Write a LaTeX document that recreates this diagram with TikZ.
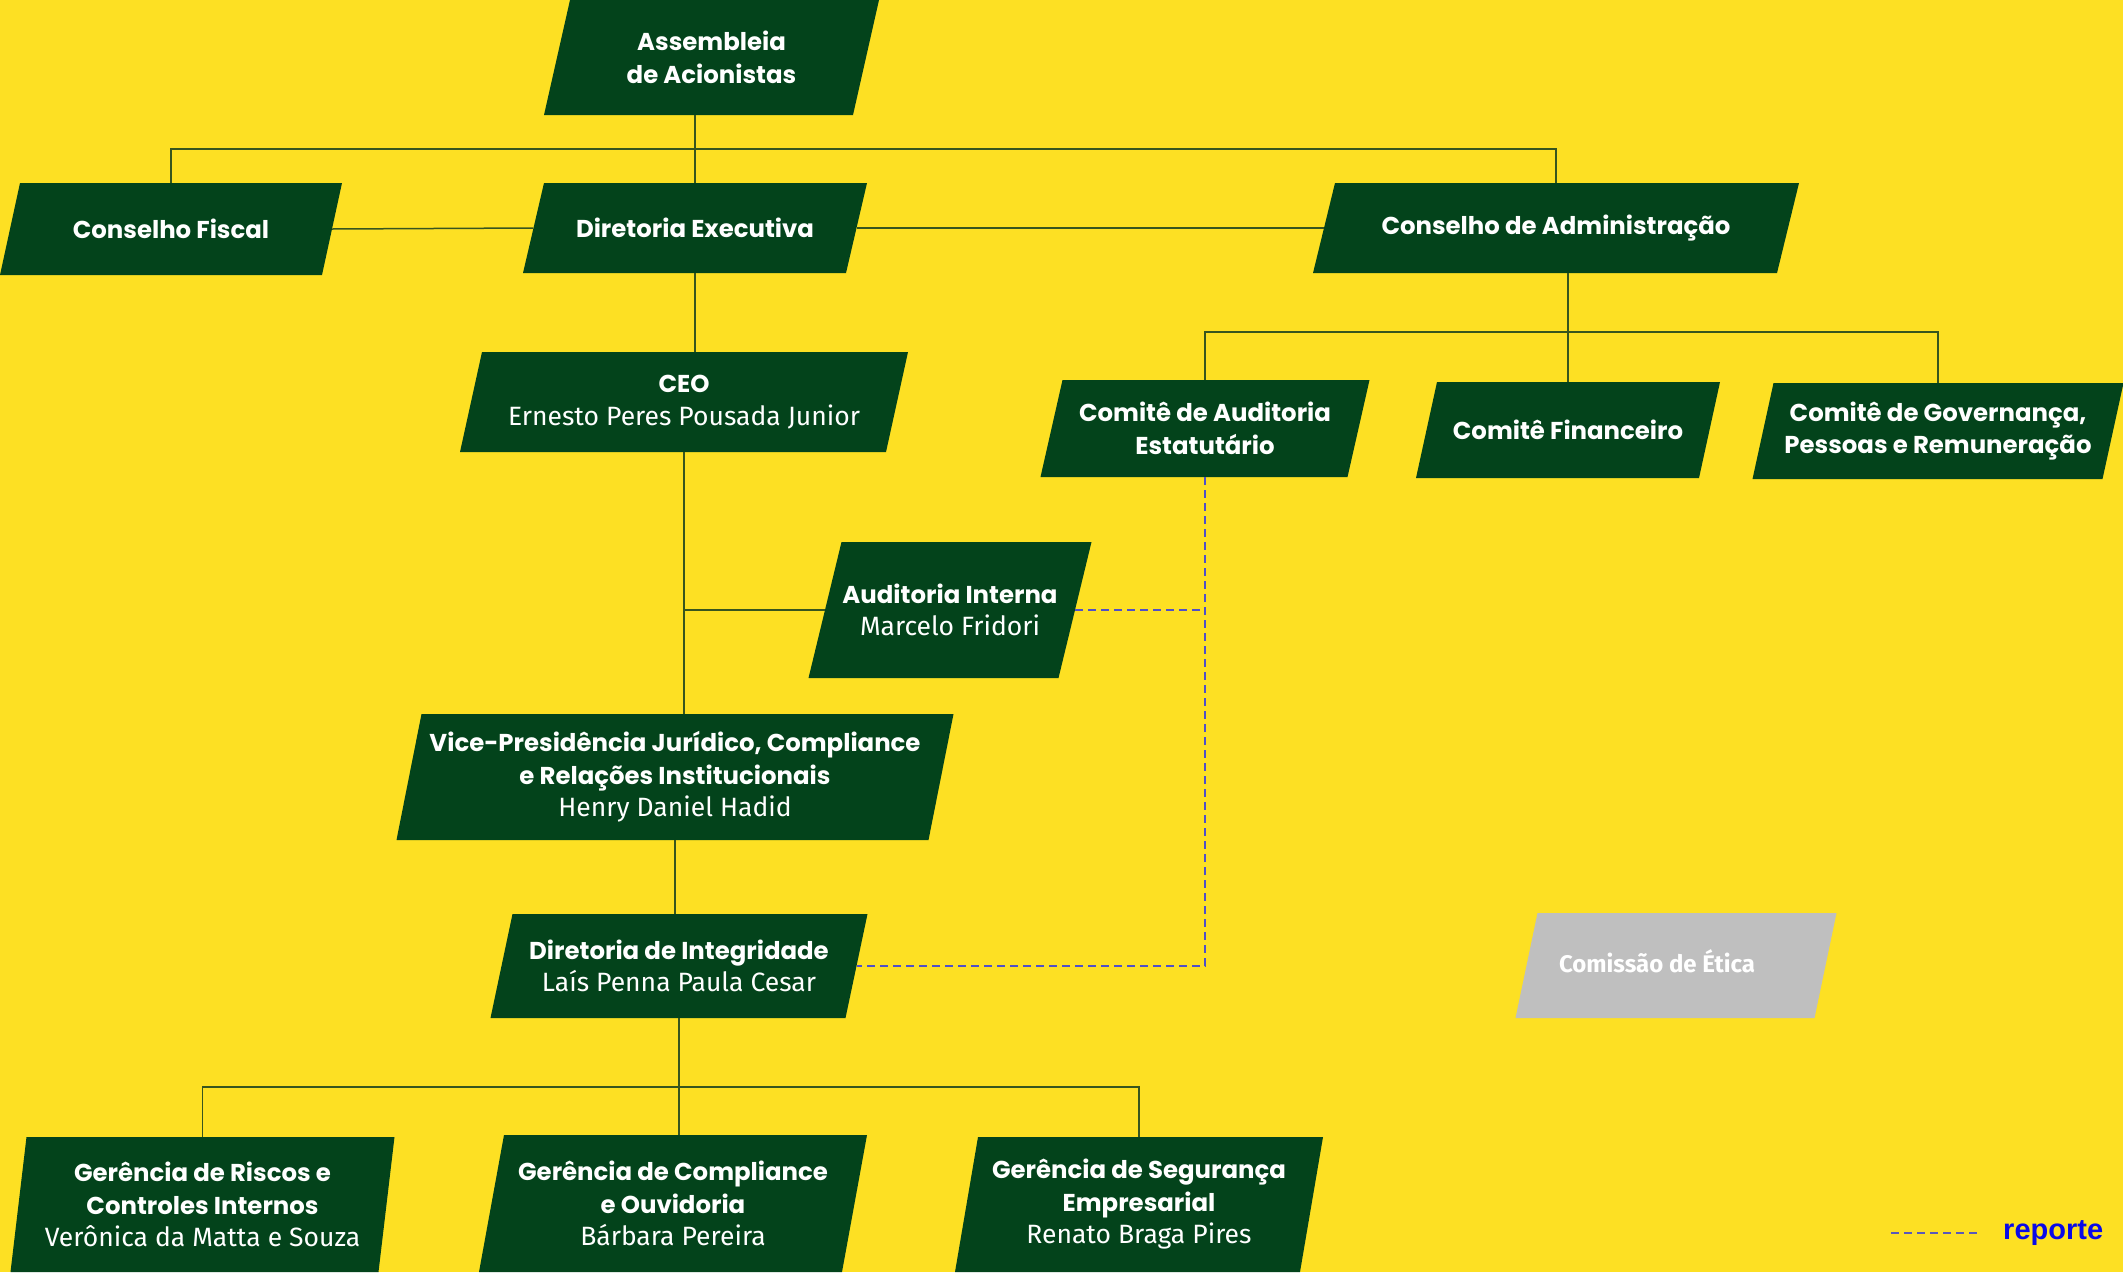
\documentclass[tikz,border=0pt]{standalone}
\usepackage{fontspec}
\setmainfont{Fira Sans}
\newfontfamily\titfont{Poppins}
\newfontfamily\legfont{Liberation Sans}
\newcommand\tb[1]{{\titfont\bfseries\fontsize{24.4}{32.5}\selectfont #1}}
\definecolor{bg}{RGB}{253,224,35}
\definecolor{boxg}{RGB}{3,67,27}
\definecolor{lineg}{RGB}{55,85,30}
\definecolor{dashb}{RGB}{80,80,200}
\definecolor{grayb}{RGB}{191,191,191}
\definecolor{repb}{RGB}{10,10,230}
\newcommand\pbox[8]{%
  \fill[#7] ({#2-#4/2+#6/2},{#3-#5/2}) -- ({#2+#4/2+#6/2},{#3-#5/2}) -- ({#2+#4/2-#6/2},{#3+#5/2}) -- ({#2-#4/2-#6/2},{#3+#5/2}) -- cycle;
  \node[txt, minimum width=#4pt, minimum height=#5pt] (#1) at (#2,#3) {#8};}
\begin{document}
\begin{tikzpicture}[x=1pt,y=-1pt,
  txt/.style={text=white, align=center, inner sep=0pt, font=\fontsize{26.5}{32.5}\selectfont},
  conn/.style={draw=lineg, line width=1.5pt},
  rep/.style={draw=dashb, line width=1.5pt, dash pattern=on 8pt off 5pt}]
\fill[bg] (0,0) rectangle (2123,1272);
\useasboundingbox (0,0) rectangle (2123,1272);
\coordinate (busA) at (0,149);
\coordinate (busB) at (0,332);
\coordinate (busC) at (0,1087);
% boxes
\pbox{AA}{711.5}{57.5}{309}{115}{26}{boxg}{\tb{Assembleia}\\\tb{de Acionistas}}
\pbox{CF}{171}{229}{322}{92}{20}{boxg}{\tb{Conselho Fiscal}}
\pbox{DE}{695}{228}{323}{90}{21}{boxg}{\tb{Diretoria Executiva}}
\pbox{CA}{1556}{228}{464}{90}{22}{boxg}{\raisebox{5pt}{\tb{Conselho de Administração}}}
\pbox{CEO}{684}{402}{426}{100}{22}{boxg}{\tb{CEO}\\Ernesto Peres Pousada Junior}
\pbox{CAud}{1205}{428.5}{307}{97}{22}{boxg}{\tb{Comitê de Auditoria}\\\tb{Estatutário}}
\pbox{CFin}{1568}{430}{283}{96}{21}{boxg}{\tb{Comitê Financeiro}}
\pbox{CGov}{1938}{431}{350}{96}{21}{boxg}{\tb{Comitê de Governança,}\\\tb{Pessoas e Remuneração}}
\pbox{AI}{950}{610}{250}{136}{33}{boxg}{\tb{Auditoria Interna}\\Marcelo Fridori}
\pbox{VP}{675}{777}{532}{126}{25}{boxg}{\tb{Vice-Presidência Jurídico, Compliance}\\\tb{e Relações Institucionais}\\Henry Daniel Hadid}
\pbox{DI}{679}{966}{355}{104}{22}{boxg}{\tb{Diretoria de Integridade}\\Laís Penna Paula Cesar}
\pbox{CE}{1676}{965.5}{299}{105}{22}{grayb}{\raisebox{8pt}{\bfseries\fontsize{24}{30}\selectfont Comissão de Ética}\hspace{38pt}}
\pbox{GR}{202.5}{1204.5}{368}{135}{16}{boxg}{\tb{Gerência de Riscos e}\\\tb{Controles Internos}\\Verônica da Matta e Souza}
\pbox{GC}{673}{1203.5}{363}{137}{25}{boxg}{\tb{Gerência de Compliance}\\\tb{e Ouvidoria}\\Bárbara Pereira}
\pbox{GS}{1139}{1204.5}{345}{135}{23}{boxg}{\tb{Gerência de Segurança}\\\tb{Empresarial}\\Renato Braga Pires}
% solid connectors
\draw[conn] (DE.north |- AA.south) -- (DE.north);
\draw[conn] (CF.north) -- (CF.north |- busA) -- (CA.north |- busA) -- (CA.north);
\draw[conn] (CF.east) -- (DE.west);
\draw[conn] (DE.east) -- (CA.west);
\draw[conn] (DE.south) -- (DE.south |- CEO.north);
\draw[conn] (CEO.south) -- (CEO.south |- VP.north);
\draw[conn] (AI.west -| CEO.south) -- (AI.west);
\draw[conn] (VP.south) -- (VP.south |- DI.north);
\draw[conn] (CFin.north |- CA.south) -- (CFin.north);
\draw[conn] (CAud.north) -- (CAud.north |- busB) -- (CGov.north |- busB) -- (CGov.north);
\draw[conn] (DI.south) -- (DI.south |- GC.north);
\draw[conn] (GR.north) -- (GR.north |- busC) -- (GS.north |- busC) -- (GS.north);
% dashed reporting lines
\draw[rep] (CAud.south) -- (CAud.south |- DI.east) -- (DI.east);
\draw[rep] (AI.east) -- (AI.east -| CAud.south);
% legend
\coordinate (lg1) at (1891,1233);
\coordinate (lg2) at (1977,1233);
\draw[rep, draw=dashb!80!gray] (lg1) -- (lg2);
\node[text=repb, font=\legfont\bfseries\fontsize{29}{32}\selectfont, anchor=west, inner sep=0pt] (leg) at (2003,1233) {reporte};
\end{tikzpicture}
\end{document}
